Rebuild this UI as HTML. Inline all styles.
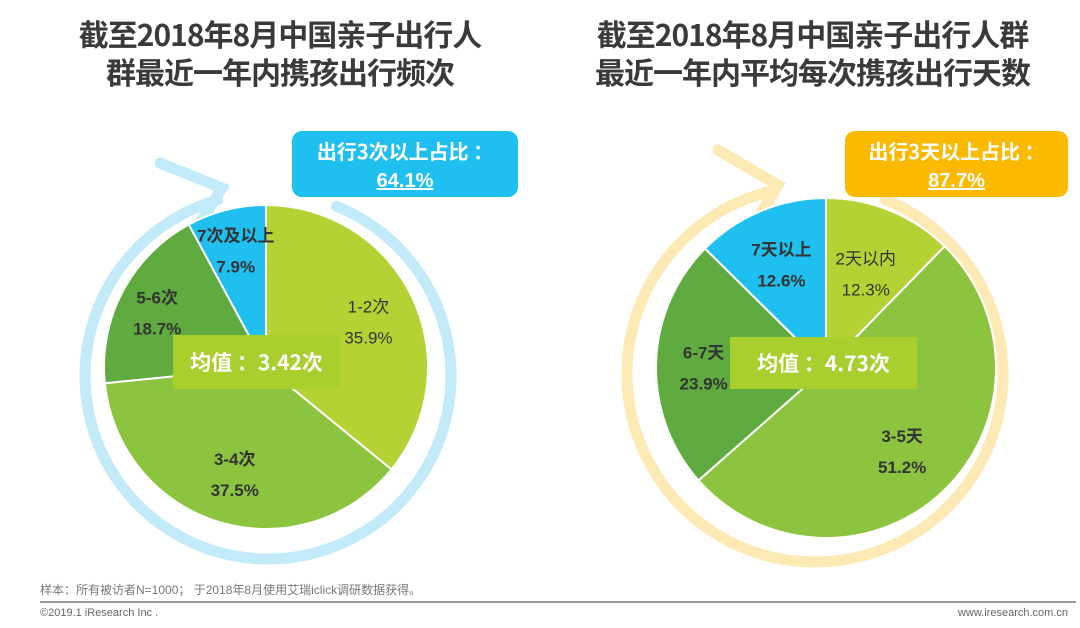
<!DOCTYPE html>
<html><head><meta charset="utf-8"><style>
body{margin:0;width:1080px;height:628px;background:#fff;overflow:hidden;font-family:"Liberation Sans","Noto Sans CJK SC",sans-serif;}
.t{position:absolute;font-weight:bold;font-size:30px;color:#3a3a3a;text-align:center;line-height:38px;font-family:"Noto Sans CJK SC",sans-serif;letter-spacing:-1px}
</style></head><body>
<div class="t" style="left:30px;top:14px;width:500px">截至2018年8月中国亲子出行人<br>群最近一年内携孩出行频次</div>
<div class="t" style="left:560px;top:14px;width:505px">截至2018年8月中国亲子出行人群<br>最近一年内平均每次携孩出行天数</div>
<svg id="svg" width="1080" height="628" style="position:absolute;left:0;top:0">
<g id="rings"></g><g id="pies"></g><g id="over"></g>
</svg>
<div style="position:absolute;left:40px;top:581px;font-size:12px;color:#777;font-family:'Liberation Sans','Noto Sans CJK SC',sans-serif">样本：所有被访者N=1000； 于2018年8月使用艾瑞iclick调研数据获得。</div>
<div style="position:absolute;left:40px;top:601px;width:1036px;height:2px;background:#999"></div>
<div style="position:absolute;left:40px;top:607px;font-size:11px;color:#666">©2019.1 iResearch Inc .</div>
<div style="position:absolute;right:12px;top:607px;font-size:11px;color:#666">www.iresearch.com.cn</div>
<script>
const leftCats=["1-2次","3-4次","5-6次","7次及以上"];
const leftVals=[35.9,37.5,18.7,7.9];
const rightCats=["2天以内","3-5天","6-7天","7天以上"];
const rightVals=[12.3,51.2,23.9,12.6];
const colors=["#b4d234","#8dc43f","#60ab40","#1fbff0"];
const NS="http://www.w3.org/2000/svg";
const svg=document.getElementById('svg');
function mk(tag,attrs,parent){const e=document.createElementNS(NS,tag);for(const k in attrs)e.setAttribute(k,attrs[k]);(parent||svg).appendChild(e);return e;}
function pt(cx,cy,r,a){const t=(a-90)*Math.PI/180;return [cx+r*Math.cos(t),cy+r*Math.sin(t)];}
function ring(cx,cy,r,color,a0,a1,name,tip,c1,c2){
  const g=document.getElementById('rings');
  const p0=pt(cx,cy,r,a0),p1=pt(cx,cy,r,a1);
  const e=mk('path',{d:`M${p0[0]},${p0[1]} A${r},${r} 0 1 1 ${p1[0]},${p1[1]}`,fill:'none',stroke:color,'stroke-width':11,'stroke-linecap':'round'},g);
  
  
  const a=mk('polyline',{points:`${c1[0]},${c1[1]} ${tip[0]},${tip[1]} ${c2[0]},${c2[1]}`,fill:'none',stroke:color,'stroke-width':11,'stroke-linecap':'round'},g);
  
  
}
ring(268,376,183,'#c2eaf8',22,-16,'left-ring',[222,188],[160,163],[198,226]);
ring(815,374,188,'#fde9b3',22,-14,'right-ring',[778,185],[718,150],[752,228]);
function pie(cx,cy,r,cats,vals,prefix,labelPos,boldIdx){
  const g=document.getElementById('pies');
  const tot=vals.reduce((a,b)=>a+b,0);let a=0;
  vals.forEach((v,i)=>{
    const a1=a+v/tot*360;const p0=pt(cx,cy,r,a),p1=pt(cx,cy,r,a1);
    const s=mk('path',{d:`M${cx},${cy} L${p0[0]},${p0[1]} A${r},${r} 0 ${a1-a>180?1:0} 1 ${p1[0]},${p1[1]} Z`,fill:colors[i],stroke:'#fff','stroke-width':2},g);
    
    
    const mid=(a+a1)/2;const lr=labelPos[i];const lp=pt(cx,cy,r*lr,mid);
    const w=boldIdx.includes(i)?'bold':'normal';
    const t1=mk('text',{x:lp[0],y:lp[1]-6,'text-anchor':'middle','font-size':17,fill:'#333','font-weight':w,'font-family':'Liberation Sans,Noto Sans CJK SC,sans-serif'},document.getElementById('over'));
    t1.textContent=cats[i];
    
    
    const t2=mk('text',{x:lp[0],y:lp[1]+25,'text-anchor':'middle','font-size':17,fill:'#333','font-weight':w,'font-family':'Liberation Sans,sans-serif'},document.getElementById('over'));
    t2.textContent=v.toFixed(1)+'%';
    
    
    a=a1;
  });
}
pie(266,367,162,leftCats,leftVals,'left',[0.70,0.67,0.76,0.76],[1,2,3]);
pie(826,368,170,rightCats,rightVals,'right',[0.62,0.65,0.72,0.68],[1,2,3]);
const ov=document.getElementById('over');
function box(x,y,w,h,fill,rx,l1,l2,name,fs){
  const r=mk('rect',{x,y,width:w,height:h,rx,fill},ov);
  
  
  const f='Noto Sans CJK SC,sans-serif';
  const t=mk('text',{x:x+w/2,y:l2?y+28:y+h/2+8,'text-anchor':'middle','font-size':fs,'font-weight':'bold',fill:'#fff','font-family':f},ov);
  t.textContent=l1;
  
  
  if(l2){const t2=mk('text',{x:x+w/2,y:y+56,'text-anchor':'middle','font-size':20,'font-weight':'bold',fill:'#fff','font-family':'Liberation Sans,sans-serif','text-decoration':'underline'},ov);
  t2.textContent=l2;
  
  }
}
box(292,131,226,66,'#1fbff0',10,'出行3次以上占比 ：','64.1%','left-share-box',20);
box(845,131,223,66,'#fbb900',10,'出行3天以上占比 ：','87.7%','right-share-box',20);
box(173,335,167,54,'#a8cf2e',0,'均值 ：3.42次',null,'left-mean-box',21);
box(730,337,187,52,'#a8cf2e',0,'均值 ：4.73次',null,'right-mean-box',21);
</script>
</body></html>
